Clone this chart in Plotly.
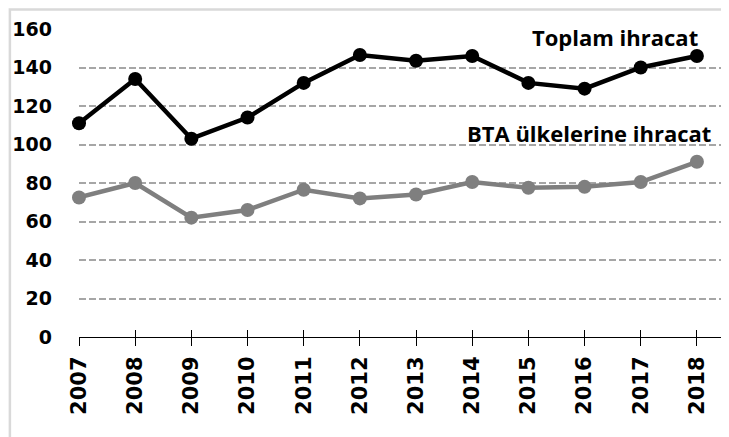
import plotly.graph_objects as go

years = [2007, 2008, 2009, 2010, 2011, 2012, 2013, 2014, 2015, 2016, 2017, 2018]
toplam = [111, 134, 103, 114, 132, 146.5, 143.5, 146, 132, 129, 140, 146]
bta = [72.5, 80, 62, 66, 76.5, 72, 74, 80.5, 77.5, 78, 80.5, 91]
y_ticks = [0, 20, 40, 60, 80, 100, 120, 140, 160]

TICK_FONT = "DejaVu Sans"
TEXT_FONT = "Open Sans"
BLACK = "#000000"
GREY = "#7f7f7f"
GRID = "#a6a6a6"

fig = go.Figure()
fig.add_trace(go.Scatter(
    x=years, y=bta, mode="lines+markers", cliponaxis=False,
    line=dict(color=GREY, width=4.5), marker=dict(color=GREY, size=14),
    showlegend=False, hoverinfo="skip",
))
fig.add_trace(go.Scatter(
    x=years, y=toplam, mode="lines+markers", cliponaxis=False,
    line=dict(color=BLACK, width=4.5), marker=dict(color=BLACK, size=14),
    showlegend=False, hoverinfo="skip",
))
# dummy trace so the second x axis (inner tick marks) is drawn
fig.add_trace(go.Scatter(x=[years[0]], y=[0], xaxis="x2", mode="markers",
                         marker=dict(opacity=0), showlegend=False, hoverinfo="skip"))

fig.add_annotation(x=2018.05, y=156, text="<b>Toplam ihracat</b>",
                   xanchor="right", yanchor="middle", showarrow=False,
                   font=dict(family=TEXT_FONT, size=22, color=BLACK))
fig.add_annotation(x=2018.28, y=106, text="<b>BTA ülkelerine ihracat</b>",
                   xanchor="right", yanchor="middle", showarrow=False,
                   font=dict(family=TEXT_FONT, size=22, color=BLACK))

# outer frame of the chart area (only left and top edges are visible)
fig.add_shape(type="rect", xref="paper", yref="paper",
              x0=-0.107, y0=-0.4, x1=1.1, y1=1.063,
              line=dict(color="#d9d9d9", width=2.5), fillcolor="rgba(0,0,0,0)")

# the page body adds an 8px offset, so the figure is 8px smaller than the window
fig.update_layout(
    width=721, height=429,
    paper_bgcolor="white", plot_bgcolor="white",
    margin=dict(l=71, r=4, t=21, b=100),
    xaxis=dict(
        range=[2007, 2018.5], tickvals=years, ticktext=[str(y) for y in years],
        tickangle=-90, showgrid=False, zeroline=False, automargin=False,
        showline=True, linecolor=BLACK, linewidth=1.2,
        ticks="outside", ticklen=8, tickcolor=BLACK, tickwidth=1.2,
        ticklabelstandoff=2,
        tickfont=dict(family=TICK_FONT, size=21, color=BLACK, weight="bold"),
    ),
    xaxis2=dict(
        range=[2007, 2018.5], tickvals=years, overlaying="x", matches="x",
        showticklabels=False, showgrid=False, zeroline=False, automargin=False,
        ticks="inside", ticklen=7, tickcolor=BLACK, tickwidth=1.2,
    ),
    yaxis=dict(
        range=[0, 160], tickvals=y_ticks, showline=False, zeroline=False,
        showgrid=True, gridcolor=GRID, gridwidth=2, griddash="7px,3px",
        ticks="", ticklabelstandoff=26, automargin=False,
        tickfont=dict(family=TICK_FONT, size=19, color=BLACK, weight="bold"),
    ),
)

fig.write_html("out.html")
